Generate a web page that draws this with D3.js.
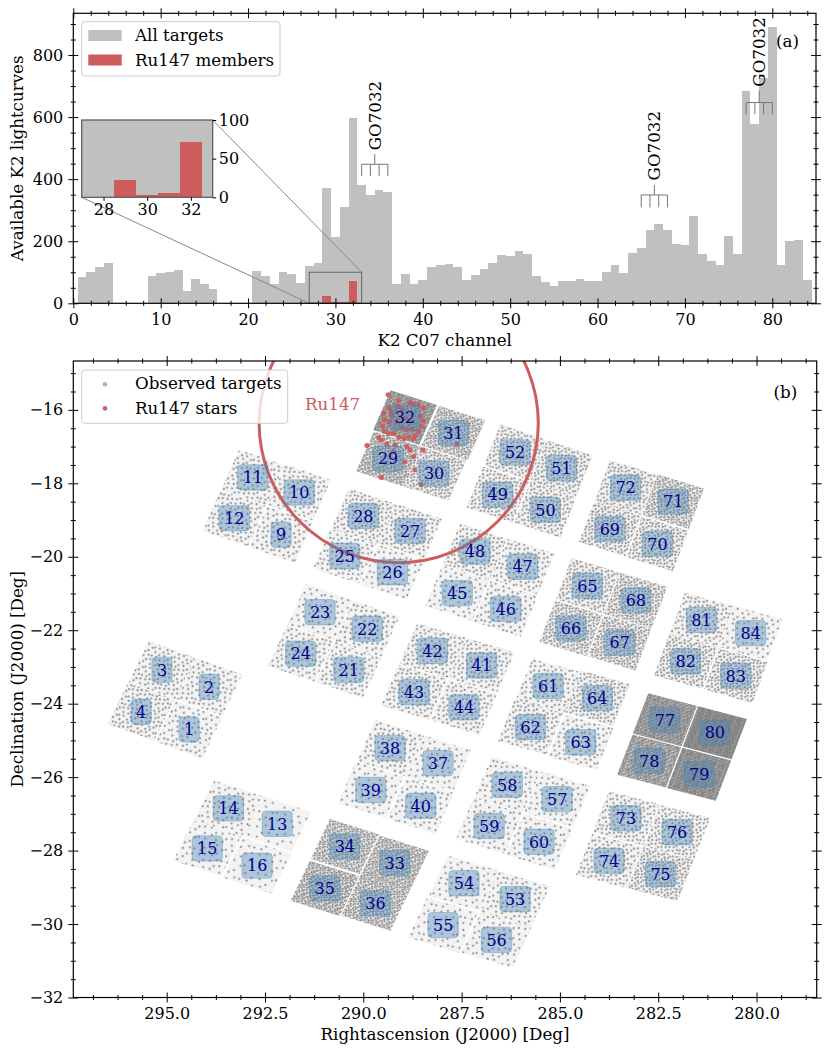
<!DOCTYPE html>
<html>
<head>
<meta charset="utf-8">
<script src="https://cdn.jsdelivr.net/npm/d3@7"></script>
<style>
  body { margin: 0; background: #fff; }
  text { font-family: "DejaVu Serif", serif; }
</style>
</head>
<body>
<div id="container"></div>
<script>

/** DATA */
// panel (a): lightcurves per K2 C07 channel (index 0 = channel 1)
const channels = d3.range(1, 85);
const allTargets = [
  84, 100, 117, 130, 0, 0, 0, 0, 87, 97,
  101, 107, 39, 77, 61, 45, 0, 0, 0, 0,
  105, 88, 62, 100, 95, 66, 121, 129, 371, 214,
  311, 596, 381, 349, 364, 360, 62, 93, 61, 74,
  118, 122, 127, 117, 74, 90, 112, 129, 155, 153,
  170, 160, 88, 68, 57, 72, 72, 79, 72, 72,
  102, 125, 99, 163, 177, 237, 257, 237, 192, 187,
  281, 159, 136, 124, 216, 160, 685, 578, 727, 890,
  124, 201, 204, 74
];
const memberChannels = [29, 30, 31, 32];
const memberCounts = [22, 3, 5, 72];

// GO7032 brackets: channels covered, foot / bar / stem / text levels (counts)
const goChannels = [[33, 34, 35, 36], [65, 66, 67, 68], [77, 78, 79, 80]];
const goFoot = [410, 309, 609];
const goBar = [448, 349, 647];
const goStem = [481, 381, 685];
const goText = [493, 396, 698];

// panel (b): channel label positions (RA, Dec in deg)
const labelChannels = [1, 2, 3, 4, 9, 10, 11, 12, 13, 14, 15, 16, 21, 22, 23, 24,
  25, 26, 27, 28, 29, 30, 31, 32, 33, 34, 35, 36, 37, 38, 39, 40, 41, 42, 43, 44,
  45, 46, 47, 48, 49, 50, 51, 52, 53, 54, 55, 56, 57, 58, 59, 60, 61, 62, 63, 64,
  65, 66, 67, 68, 69, 70, 71, 72, 73, 74, 75, 76, 77, 78, 79, 80, 81, 82, 83, 84];
const labelRA = [294.43, 293.92, 295.12, 295.65, 292.09, 291.63, 292.81, 293.28,
  292.19, 293.43, 293.97, 292.70, 290.37, 289.90, 291.10, 291.59,
  290.47, 289.26, 288.81, 290.00, 289.37, 288.20, 287.71, 288.94,
  289.20, 290.47, 290.98, 289.69, 288.10, 289.32, 289.81, 288.54,
  286.99, 288.24, 288.71, 287.44, 287.61, 286.38, 285.95, 287.16,
  286.58, 285.37, 284.96, 286.14, 286.14, 287.44, 287.97, 286.61,
  285.07, 286.34, 286.80, 285.53, 285.30, 285.75, 284.47, 284.05,
  284.30, 284.72, 283.48, 283.07, 283.73, 282.52, 282.12, 283.33,
  283.32, 283.75, 282.44, 282.02, 282.33, 282.73, 281.46, 281.06,
  281.40, 281.80, 280.53, 280.15];
const labelDec = [-24.70, -23.54, -23.08, -24.22, -19.40, -18.25, -17.84, -18.95,
  -27.27, -26.85, -27.94, -28.41, -23.08, -21.96, -21.51, -22.64,
  -19.98, -20.42, -19.30, -18.89, -17.33, -17.73, -16.63, -16.21,
  -28.34, -27.89, -29.03, -29.43, -25.62, -25.21, -26.35, -26.78,
  -22.96, -22.56, -23.69, -24.10, -20.99, -21.42, -20.27, -19.86,
  -18.31, -18.72, -17.59, -17.16, -29.32, -28.89, -30.03, -30.43,
  -26.60, -26.21, -27.33, -27.76, -23.52, -24.64, -25.05, -23.85,
  -20.79, -21.95, -22.34, -21.19, -19.24, -19.65, -18.50, -18.12,
  -27.12, -28.28, -28.64, -27.50, -24.44, -25.56, -25.92, -24.79,
  -21.72, -22.85, -23.24, -22.08];
// channels of each CCD module: [top-left, top-right, bottom-left, bottom-right]
const moduleQuads = [[3, 2, 4, 1], [11, 10, 12, 9], [14, 13, 15, 16], [23, 22, 24, 21],
  [28, 27, 25, 26], [32, 31, 29, 30], [34, 33, 35, 36], [38, 37, 39, 40],
  [42, 41, 43, 44], [48, 47, 45, 46], [52, 51, 49, 50], [54, 53, 55, 56],
  [58, 57, 59, 60], [61, 64, 62, 63], [65, 68, 66, 67], [72, 71, 69, 70],
  [73, 76, 74, 75], [77, 80, 78, 79], [81, 84, 82, 83]];

// Ru147 member stars (RA, Dec)
const ru147RA = [289.37, 289.10, 288.74, 288.59, 288.47, 289.34, 289.48, 289.27,
  289.46, 289.51, 289.34, 289.17, 288.55, 288.47, 288.51, 288.59, 288.68, 289.02,
  288.89, 288.76, 289.46, 289.36, 289.23, 289.61, 289.54, 289.10, 288.97, 288.85,
  288.72, 289.91, 289.40, 289.19, 288.89, 288.81, 288.72, 288.95, 289.54, 287.62,
  289.29, 289.02, 288.93, 289.23, 288.53, 288.69, 288.48, 289.11, 288.81];
const ru147Dec = [-15.59, -15.75, -15.84, -15.86, -15.95, -15.94, -16.09, -16.14,
  -16.27, -16.43, -16.33, -16.30, -16.16, -16.30, -16.45, -16.59, -16.70, -16.48,
  -16.54, -16.52, -16.59, -16.66, -16.63, -16.75, -16.82, -16.75, -16.79, -16.73,
  -16.79, -16.97, -16.93, -16.95, -17.00, -17.09, -17.27, -17.42, -17.84, -16.93,
  -16.05, -16.00, -16.23, -17.14, -18.04, -17.63, -17.09, -15.91, -15.80];
const ru147Center = [289.10, -16.36];
const ru147Radius = 3.55; // deg of RA

/** CONSTANTS */
const width = 830, height = 1053;
const FS = 16;      // tick labels, channel labels
const FL = 16.7;    // axis labels, legends, annotations
const GRAY = "#c0c0c0", RED = "#cd5c5c";

const svg = d3.select("#container").append("svg")
  .attr("width", width).attr("height", height);
const defs = svg.append("defs");

// generic tick helper: major + minor ticks, "inout" or "out"
function addAxis(side, scale, pos, major, minor, opts) {
  const o = Object.assign({ labels: false, fmt: null, pad: 10, len: 5, mlen: 2.5, out: false }, opts);
  const gen = { bottom: d3.axisBottom, top: d3.axisTop, left: d3.axisLeft, right: d3.axisRight }[side];
  const horiz = side === "bottom" || side === "top";
  const sign = (side === "bottom" || side === "right") ? 1 : -1;
  const tr = horiz ? `translate(0,${pos})` : `translate(${pos},0)`;

  function draw(values, L, withLabels) {
    const ax = gen(scale).tickValues(values).tickSize(0).tickPadding(o.pad)
      .tickFormat(withLabels ? (o.fmt || (d => d)) : "");
    const g = svg.append("g").attr("transform", tr).call(ax);
    g.select(".domain").remove();
    const a = o.out ? 0 : -L * sign, b = L * sign;
    g.selectAll(".tick line")
      .attr(horiz ? "y1" : "x1", a).attr(horiz ? "y2" : "x2", b)
      .attr("stroke", "#000").attr("stroke-width", 1);
    g.selectAll(".tick text").attr("font-size", FS).attr("font-family", "DejaVu Serif").attr("fill", "#000");
    return g;
  }
  draw(minor, o.mlen, false);
  draw(major, o.len, o.labels);
}

/** PANEL (a) */
const pa = { left: 73.3, right: 816, top: 13.3, bottom: 303.3 };
const xA = d3.scaleLinear().domain([0, 85]).range([pa.left, pa.right]);
const yA = d3.scaleLinear().domain([0, 934.5]).range([pa.bottom, pa.top]);

svg.append("g").attr("shape-rendering", "crispEdges")
  .selectAll("rect").data(channels.filter(c => allTargets[c - 1] > 0)).join("rect")
  .attr("x", c => xA(c - 0.5)).attr("width", c => xA(c + 0.5) - xA(c - 0.5))
  .attr("y", c => yA(allTargets[c - 1])).attr("height", c => yA(0) - yA(allTargets[c - 1]))
  .attr("fill", GRAY);

svg.append("g").attr("shape-rendering", "crispEdges")
  .selectAll("rect").data(memberChannels).join("rect")
  .attr("x", c => xA(c - 0.5)).attr("width", c => xA(c + 0.5) - xA(c - 0.5))
  .attr("y", (c, i) => yA(memberCounts[i])).attr("height", (c, i) => yA(0) - yA(memberCounts[i]))
  .attr("fill", RED);

// zoom rectangle
svg.append("rect")
  .attr("x", xA(27)).attr("y", yA(100)).attr("width", xA(33) - xA(27)).attr("height", yA(0) - yA(100))
  .attr("fill", "none").attr("stroke", "#666").attr("stroke-width", 1);

// inset
const ins = { left: 81.7, right: 212.7, top: 120, bottom: 197.3 };
const xI = d3.scaleLinear().domain([27, 33]).range([ins.left, ins.right]);
const yI = d3.scaleLinear().domain([0, 100]).range([ins.bottom, ins.top]);

svg.append("line").attr("x1", ins.left).attr("y1", ins.bottom).attr("x2", xA(27)).attr("y2", yA(0))
  .attr("stroke", "#888").attr("stroke-width", 1);
svg.append("line").attr("x1", ins.right).attr("y1", ins.top).attr("x2", xA(33)).attr("y2", yA(100))
  .attr("stroke", "#888").attr("stroke-width", 1);

defs.append("clipPath").attr("id", "clipInset").append("rect")
  .attr("x", ins.left).attr("y", ins.top).attr("width", ins.right - ins.left).attr("height", ins.bottom - ins.top);
const gIn = svg.append("g").attr("clip-path", "url(#clipInset)").attr("shape-rendering", "crispEdges");
gIn.append("rect").attr("x", ins.left).attr("y", ins.top)
  .attr("width", ins.right - ins.left).attr("height", ins.bottom - ins.top).attr("fill", "#fff");
gIn.selectAll("rect.all").data(channels.filter(c => c >= 26 && c <= 34)).join("rect").attr("class", "all")
  .attr("x", c => xI(c - 0.5)).attr("width", c => xI(c + 0.5) - xI(c - 0.5))
  .attr("y", c => yI(Math.min(allTargets[c - 1], 120))).attr("height", c => yI(0) - yI(Math.min(allTargets[c - 1], 120)))
  .attr("fill", GRAY);
gIn.selectAll("rect.mem").data(memberChannels).join("rect").attr("class", "mem")
  .attr("x", c => xI(c - 0.5)).attr("width", c => xI(c + 0.5) - xI(c - 0.5))
  .attr("y", (c, i) => yI(memberCounts[i])).attr("height", (c, i) => yI(0) - yI(memberCounts[i]))
  .attr("fill", RED);
svg.append("rect").attr("x", ins.left).attr("y", ins.top)
  .attr("width", ins.right - ins.left).attr("height", ins.bottom - ins.top)
  .attr("fill", "none").attr("stroke", "#555").attr("stroke-width", 1.2);
addAxis("bottom", xI, ins.bottom, [28, 30, 32], [], { labels: true, out: true, len: 3.5, pad: 6 });
addAxis("right", yI, ins.right, [0, 50, 100], [], { labels: true, out: true, len: 3.5, pad: 6 });

// GO7032 brackets
goChannels.forEach((chs, i) => {
  const g = svg.append("g").attr("stroke", "#777").attr("stroke-width", 1).attr("fill", "none");
  const x0 = xA(chs[0]), x1 = xA(chs[chs.length - 1]);
  const xm = (x0 + x1) / 2;
  g.append("line").attr("x1", x0).attr("x2", x1).attr("y1", yA(goBar[i])).attr("y2", yA(goBar[i]));
  chs.forEach(c => g.append("line").attr("x1", xA(c)).attr("x2", xA(c))
    .attr("y1", yA(goBar[i])).attr("y2", yA(goFoot[i])));
  g.append("line").attr("x1", xm).attr("x2", xm).attr("y1", yA(goBar[i])).attr("y2", yA(goStem[i]));
  svg.append("text").attr("transform", `translate(${xm},${yA(goText[i])}) rotate(-90)`)
    .attr("dy", "0.36em").attr("font-size", FL).text("GO7032");
});

// axes (a)
svg.append("rect").attr("x", pa.left).attr("y", pa.top)
  .attr("width", pa.right - pa.left).attr("height", pa.bottom - pa.top)
  .attr("fill", "none").attr("stroke", "#000").attr("stroke-width", 1.2);
const xAmaj = d3.range(0, 81, 10), xAmin = d3.range(2, 85, 2).filter(d => d % 10 !== 0);
const yAmaj = d3.range(0, 801, 200), yAmin = d3.range(50, 934, 50).filter(d => d % 200 !== 0);
addAxis("bottom", xA, pa.bottom, xAmaj, xAmin, { labels: true });
addAxis("top", xA, pa.top, xAmaj, xAmin, {});
addAxis("left", yA, pa.left, yAmaj, yAmin, { labels: true });
addAxis("right", yA, pa.right, yAmaj, yAmin, {});

svg.append("text").attr("x", (pa.left + pa.right) / 2).attr("y", 345.5)
  .attr("text-anchor", "middle").attr("font-size", FL).text("K2 C07 channel");
svg.append("text").attr("transform", `translate(23,${(pa.top + pa.bottom) / 2}) rotate(-90)`)
  .attr("text-anchor", "middle").attr("font-size", FL).text("Available K2 lightcurves");
svg.append("text").attr("x", 776).attr("y", 47).attr("font-size", FL).text("(a)");

// legend (a)
const la = svg.append("g");
la.append("rect").attr("x", 81.7).attr("y", 21.7).attr("width", 198.3).attr("height", 54.3)
  .attr("rx", 3).attr("fill", "#fff").attr("fill-opacity", 0.8).attr("stroke", "#ccc");
la.append("rect").attr("x", 88.3).attr("y", 30).attr("width", 33.4).attr("height", 11).attr("fill", GRAY);
la.append("rect").attr("x", 88.3).attr("y", 54.5).attr("width", 33.4).attr("height", 11).attr("fill", RED);
la.append("text").attr("x", 135).attr("y", 41).attr("font-size", FL).text("All targets");
la.append("text").attr("x", 135).attr("y", 65.5).attr("font-size", FL).text("Ru147 members");

/** PANEL (b) */
const pb = { left: 73.3, right: 816.7, top: 361, bottom: 997.5 };
const xB = d3.scaleLinear().domain([297.375, 278.47]).range([pb.left, pb.right]);
const yB = d3.scaleLinear().domain([-32, -14.67]).range([pb.bottom, pb.top]);

defs.append("clipPath").attr("id", "clipB").append("rect")
  .attr("x", pb.left).attr("y", pb.top).attr("width", pb.right - pb.left).attr("height", pb.bottom - pb.top);
const gB = svg.append("g").attr("clip-path", "url(#clipB)");

// channel label positions in pixels
const P = {};
labelChannels.forEach((c, i) => { P[c] = [xB(labelRA[i]), yB(labelDec[i])]; });

// channel footprints: each module is split into 2x2 channel quadrants
const quads = [];
moduleQuads.forEach(m => {
  const [tl, tr, bl, br] = m.map(c => P[c]);
  const u = [(tr[0] - tl[0] + br[0] - bl[0]) / 4, (tr[1] - tl[1] + br[1] - bl[1]) / 4];
  const v = [(bl[0] - tl[0] + br[0] - tr[0]) / 4, (bl[1] - tl[1] + br[1] - tr[1]) / 4];
  m.forEach(c => quads.push({ c, p: P[c], u, v }));
});
const shrink = 0.975;
const quadPath = q => {
  const [cx, cy] = q.p, ux = q.u[0] * shrink, uy = q.u[1] * shrink, vx = q.v[0] * shrink, vy = q.v[1] * shrink;
  return `M${cx - ux - vx},${cy - uy - vy}L${cx + ux - vx},${cy + uy - vy}L${cx + ux + vx},${cy + uy + vy}L${cx - ux + vx},${cy - uy + vy}Z`;
};

// target-density texture per channel (tile scaled so dots/area matches the channel's count)
const texture = [[0.07, 0.11], [0.29, 0.05], [0.50, 0.15], [0.71, 0.08], [0.90, 0.19],
  [0.16, 0.31], [0.40, 0.27], [0.60, 0.37], [0.82, 0.33],
  [0.03, 0.52], [0.25, 0.47], [0.48, 0.56], [0.70, 0.50], [0.93, 0.58],
  [0.14, 0.71], [0.36, 0.76], [0.59, 0.69], [0.81, 0.77],
  [0.06, 0.93], [0.27, 0.89], [0.47, 0.95], [0.69, 0.88], [0.91, 0.96]];
quads.forEach(q => {
  const area = Math.abs(q.u[0] * q.v[1] - q.u[1] * q.v[0]) * 4;
  const n = allTargets[q.c - 1];
  const t = Math.sqrt(texture.length * area / n);
  const ang = Math.atan2(q.u[1], q.u[0]) * 180 / Math.PI;
  const pat = defs.append("pattern").attr("id", "pat" + q.c)
    .attr("patternUnits", "userSpaceOnUse").attr("width", t).attr("height", t)
    .attr("patternTransform", `rotate(${ang + 7})`);
  pat.selectAll("circle").data(texture).join("circle")
    .attr("cx", d => d[0] * t).attr("cy", d => d[1] * t).attr("r", 1.1)
    .attr("fill", "#666").attr("fill-opacity", 0.75);
});

gB.selectAll("path.bg").data(quads).join("path").attr("class", "bg")
  .attr("d", quadPath).attr("fill", "#f3f3f3");
gB.selectAll("path.dots").data(quads).join("path").attr("class", "dots")
  .attr("d", quadPath).attr("fill", q => `url(#pat${q.c})`);

// Ru147 stars
gB.selectAll("circle.ru").data(ru147RA).join("circle").attr("class", "ru")
  .attr("cx", d => xB(d)).attr("cy", (d, i) => yB(ru147Dec[i])).attr("r", 2.5)
  .attr("fill", RED).attr("fill-opacity", 0.95);

// Ru147 circle
gB.append("circle").attr("cx", xB(ru147Center[0])).attr("cy", yB(ru147Center[1]))
  .attr("r", Math.abs(xB(ru147Center[0] - ru147Radius) - xB(ru147Center[0])))
  .attr("fill", "none").attr("stroke", RED).attr("stroke-width", 3);

// channel labels
const lab = gB.selectAll("g.lab").data(labelChannels).join("g").attr("class", "lab")
  .attr("transform", c => `translate(${P[c][0]},${P[c][1]})`);
lab.append("rect");
lab.append("text").attr("text-anchor", "middle").attr("dy", "0.36em")
  .attr("font-size", FS).attr("fill", "#00008b").text(c => c);
lab.each(function () {
  const g = d3.select(this);
  const w = g.select("text").node().getComputedTextLength() + 10;
  g.select("rect").attr("x", -w / 2).attr("y", -12.7).attr("width", w).attr("height", 25.4)
    .attr("rx", 4).attr("fill", "#4682b4").attr("fill-opacity", 0.4)
    .attr("stroke", "#4682b4").attr("stroke-opacity", 0.35);
});

svg.append("text").attr("x", 305).attr("y", 410).attr("font-size", FL).attr("fill", RED).text("Ru147");
svg.append("text").attr("x", 773.5).attr("y", 397.5).attr("font-size", FL).text("(b)");

// axes (b)
svg.append("rect").attr("x", pb.left).attr("y", pb.top)
  .attr("width", pb.right - pb.left).attr("height", pb.bottom - pb.top)
  .attr("fill", "none").attr("stroke", "#000").attr("stroke-width", 1.2);
const xBmaj = d3.range(280, 295.1, 2.5);
const xBmin = d3.range(278.75, 297.3, 0.625).filter(d => Math.abs((d / 2.5) - Math.round(d / 2.5)) > 1e-6);
const yBmaj = d3.range(-32, -15.9, 2);
const yBmin = d3.range(-31.5, -14.9, 0.5).filter(d => d % 2 !== 0);
addAxis("bottom", xB, pb.bottom, xBmaj, xBmin, { labels: true, fmt: d3.format(".1f") });
addAxis("top", xB, pb.top, xBmaj, xBmin, {});
addAxis("left", yB, pb.left, yBmaj, yBmin, { labels: true, fmt: d3.format("d") });
addAxis("right", yB, pb.right, yBmaj, yBmin, {});

svg.append("text").attr("x", (pb.left + pb.right) / 2).attr("y", 1040)
  .attr("text-anchor", "middle").attr("font-size", FL).text("Rightascension (J2000) [Deg]");
svg.append("text").attr("transform", `translate(23,${(pb.top + pb.bottom) / 2}) rotate(-90)`)
  .attr("text-anchor", "middle").attr("font-size", FL).text("Declination (J2000) [Deg]");

// legend (b)
const lb = svg.append("g");
lb.append("rect").attr("x", 81.7).attr("y", 370).attr("width", 206).attr("height", 53.3)
  .attr("rx", 3).attr("fill", "#fff").attr("fill-opacity", 0.8).attr("stroke", "#ccc");
lb.append("circle").attr("cx", 105).attr("cy", 384.3).attr("r", 2.4).attr("fill", "#808080").attr("fill-opacity", 0.6);
lb.append("circle").attr("cx", 105).attr("cy", 408.3).attr("r", 2.4).attr("fill", RED).attr("fill-opacity", 0.95);
lb.append("text").attr("x", 135).attr("y", 389).attr("font-size", FL).text("Observed targets");
lb.append("text").attr("x", 135).attr("y", 413.5).attr("font-size", FL).text("Ru147 stars");

</script>
</body>
</html>
